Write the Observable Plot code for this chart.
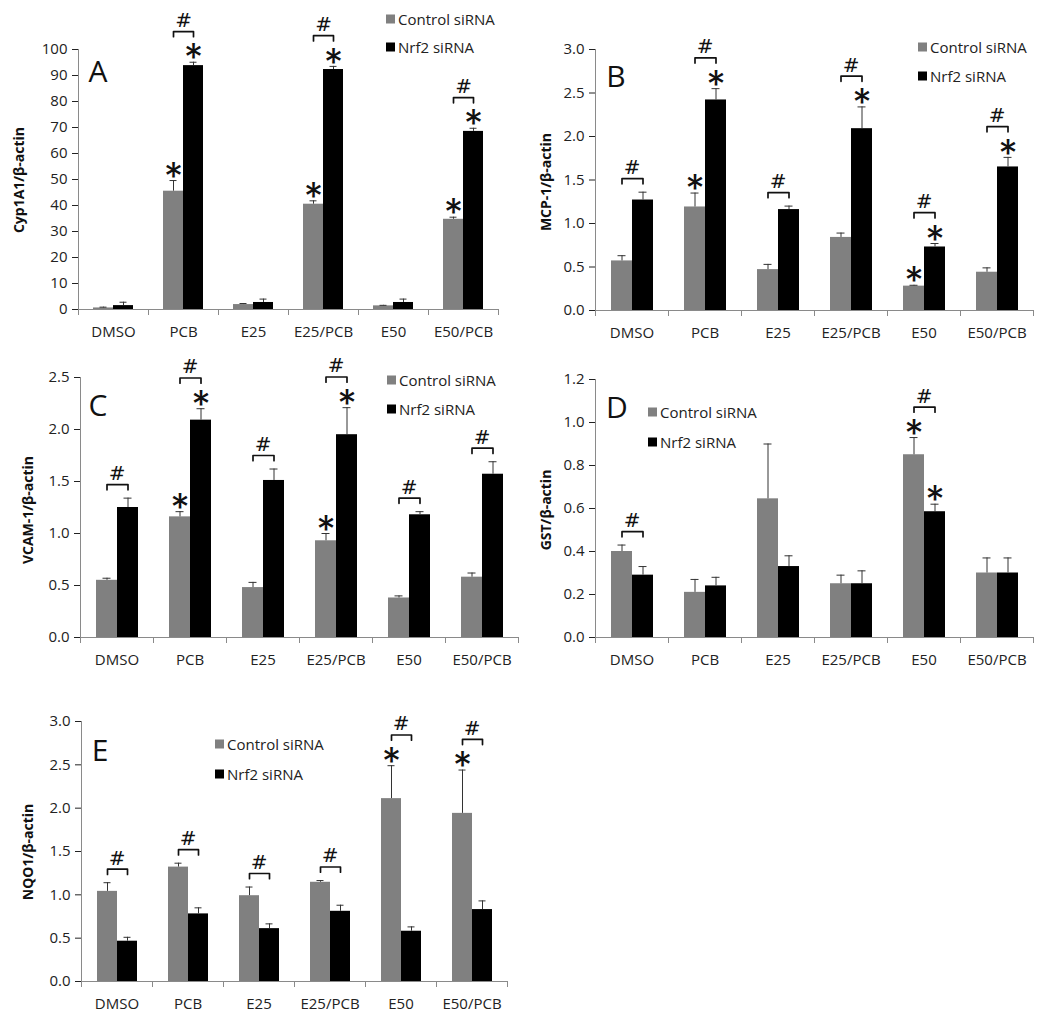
<!DOCTYPE html>
<html>
<head>
<meta charset="utf-8">
<script src="https://cdn.jsdelivr.net/npm/d3@7"></script>
<script src="https://cdn.jsdelivr.net/npm/@observablehq/plot@0.6"></script>
<style>
  html, body { margin: 0; background: #fff; }
  #root { position: relative; width: 1050px; height: 1020px; overflow: hidden; font-family: "Open Sans", sans-serif; color: #222; }
  .panel { position: absolute; }
  .panel svg { position: absolute; left: 0; top: 0; background: transparent !important; overflow: visible; max-width: none !important; }
  .panel g[aria-label="y-axis tick"] { stroke: #8a8a8a; }
  .letter { position: absolute; font-size: 30px; line-height: 1; transform: translate(-50%, -50%); color: #111; }
  .ytitle { position: absolute; font-weight: bold; font-size: 14px; line-height: 1; white-space: nowrap; transform: translate(-50%, -50%) rotate(-90deg); color: #111; }
  .leg { position: absolute; font-size: 15px; line-height: 1; white-space: nowrap; transform: translateY(-50%); display: flex; align-items: center; color: #222; }
  .leg i { display: inline-block; width: 9px; height: 9px; margin-right: 3px; }
</style>
</head>
<body>
<div id="root"></div>
<script>
// ---------- data ----------
const categories = ["DMSO", "PCB", "E25", "E25/PCB", "E50", "E50/PCB"];
const seriesNames = ["Control siRNA", "Nrf2 siRNA"];
const seriesColors = ["#808080", "#000000"];

// A: Cyp1A1
const cypControl    = [0.6, 45.5, 1.9, 40.5, 1.4, 34.7];
const cypControlErr = [0.3, 4.1, 0.4, 1.3, 0.2, 0.8];
const cypNrf2       = [1.5, 93.8, 2.7, 92.3, 2.7, 68.5];
const cypNrf2Err    = [1.3, 1.3, 1.3, 1.2, 1.3, 1.2];
const cypStarsControl = ["PCB", "E25/PCB", "E50/PCB"];
const cypStarsNrf2    = ["PCB", "E25/PCB", "E50/PCB"];
const cypBrackets     = ["PCB", "E25/PCB", "E50/PCB"];
const cypTicks = [0, 10, 20, 30, 40, 50, 60, 70, 80, 90, 100];

// B: MCP-1
const mcpControl    = [0.57, 1.19, 0.47, 0.84, 0.28, 0.44];
const mcpControlErr = [0.06, 0.16, 0.06, 0.05, 0.01, 0.05];
const mcpNrf2       = [1.27, 2.42, 1.16, 2.09, 0.73, 1.65];
const mcpNrf2Err    = [0.09, 0.13, 0.04, 0.25, 0.04, 0.11];
const mcpStarsControl = ["PCB", "E50"];
const mcpStarsNrf2    = ["PCB", "E25/PCB", "E50", "E50/PCB"];
const mcpBrackets     = ["DMSO", "PCB", "E25", "E25/PCB", "E50", "E50/PCB"];
const mcpTicks = [0, 0.5, 1.0, 1.5, 2.0, 2.5, 3.0];

// C: VCAM-1
const vcamControl    = [0.55, 1.16, 0.48, 0.93, 0.38, 0.58];
const vcamControlErr = [0.02, 0.05, 0.05, 0.07, 0.02, 0.04];
const vcamNrf2       = [1.25, 2.09, 1.51, 1.95, 1.18, 1.57];
const vcamNrf2Err    = [0.09, 0.11, 0.11, 0.26, 0.03, 0.12];
const vcamStarsControl = ["PCB", "E25/PCB"];
const vcamStarsNrf2    = ["PCB", "E25/PCB"];
const vcamBrackets     = ["DMSO", "PCB", "E25", "E25/PCB", "E50", "E50/PCB"];
const vcamTicks = [0, 0.5, 1.0, 1.5, 2.0, 2.5];

// D: GST
const gstControl    = [0.40, 0.21, 0.645, 0.25, 0.85, 0.30];
const gstControlErr = [0.03, 0.06, 0.255, 0.04, 0.08, 0.07];
const gstNrf2       = [0.29, 0.24, 0.33, 0.25, 0.585, 0.30];
const gstNrf2Err    = [0.04, 0.04, 0.05, 0.06, 0.035, 0.07];
const gstStarsControl = ["E50"];
const gstStarsNrf2    = ["E50"];
const gstBrackets     = ["DMSO", "E50"];
const gstTicks = [0, 0.2, 0.4, 0.6, 0.8, 1.0, 1.2];

// E: NQO1
const nqoControl    = [1.04, 1.32, 0.99, 1.145, 2.11, 1.94];
const nqoControlErr = [0.10, 0.045, 0.10, 0.02, 0.38, 0.50];
const nqoNrf2       = [0.465, 0.78, 0.61, 0.81, 0.58, 0.83];
const nqoNrf2Err    = [0.045, 0.07, 0.055, 0.07, 0.05, 0.10];
const nqoStarsControl = ["E50", "E50/PCB"];
const nqoStarsNrf2    = [];
const nqoBrackets     = ["DMSO", "PCB", "E25", "E25/PCB", "E50", "E50/PCB"];
const nqoTicks = [0, 0.5, 1.0, 1.5, 2.0, 2.5, 3.0];

// ---------- layout ----------
const panels = [
  {letter: "A", title: "Cyp1A1/β-actin", control: cypControl, controlErr: cypControlErr, nrf2: cypNrf2, nrf2Err: cypNrf2Err,
   starsControl: cypStarsControl, starsNrf2: cypStarsNrf2, brackets: cypBrackets, ticks: cypTicks, fmt: d3.format("d"),
   left: 0, top: 0, width: 520, height: 340, ml: 76, mr: 21, mt: 49, mb: 31,
   letterPos: [98, 71], titlePos: [19, 180], legPos: [386, 19, 47]},
  {letter: "B", title: "MCP-1/β-actin", control: mcpControl, controlErr: mcpControlErr, nrf2: mcpNrf2, nrf2Err: mcpNrf2Err,
   starsControl: mcpStarsControl, starsNrf2: mcpStarsNrf2, brackets: mcpBrackets, ticks: mcpTicks, fmt: d3.format(".1f"),
   left: 520, top: 0, width: 530, height: 340, ml: 73, mr: 15, mt: 49, mb: 30,
   letterPos: [616, 76], titlePos: [546, 182], legPos: [918, 47, 76]},
  {letter: "C", title: "VCAM-1/β-actin", control: vcamControl, controlErr: vcamControlErr, nrf2: vcamNrf2, nrf2Err: vcamNrf2Err,
   starsControl: vcamStarsControl, starsNrf2: vcamStarsNrf2, brackets: vcamBrackets, ticks: vcamTicks, fmt: d3.format(".1f"),
   left: 0, top: 330, width: 520, height: 340, ml: 79, mr: 1, mt: 47, mb: 33,
   letterPos: [98, 405], titlePos: [28, 510], legPos: [387, 380, 409]},
  {letter: "D", title: "GST/β-actin", control: gstControl, controlErr: gstControlErr, nrf2: gstNrf2, nrf2Err: gstNrf2Err,
   starsControl: gstStarsControl, starsNrf2: gstStarsNrf2, brackets: gstBrackets, ticks: gstTicks, fmt: d3.format(".1f"),
   left: 520, top: 330, width: 530, height: 340, ml: 73, mr: 15, mt: 49, mb: 33,
   letterPos: [617, 407], titlePos: [546, 510], legPos: [648, 412, 442]},
  {letter: "E", title: "NQO1/β-actin", control: nqoControl, controlErr: nqoControlErr, nrf2: nqoNrf2, nrf2Err: nqoNrf2Err,
   starsControl: nqoStarsControl, starsNrf2: nqoStarsNrf2, brackets: nqoBrackets, ticks: nqoTicks, fmt: d3.format(".1f"),
   left: 0, top: 680, width: 520, height: 340, ml: 79, mr: 12, mt: 41, mb: 39,
   letterPos: [100, 750], titlePos: [28, 852], legPos: [215, 744, 774]}
];

const axisGray = "#8a8a8a";
const root = document.getElementById("root");

function makePanel(cfg) {
  const ymax = d3.max(cfg.ticks);
  const rows = categories.flatMap((c, i) => [
    {cat: c, series: seriesNames[0], value: cfg.control[i], err: cfg.controlErr[i]},
    {cat: c, series: seriesNames[1], value: cfg.nrf2[i], err: cfg.nrf2Err[i]}
  ]);
  rows.forEach(d => d.top = d.value + d.err);
  const stars = rows.filter(d => (d.series === seriesNames[0] ? cfg.starsControl : cfg.starsNrf2).includes(d.cat));
  const brackets = cfg.brackets.map(c => {
    const base = d3.max(rows.filter(d => d.cat === c), d => d.top);
    const hasStar = stars.some(s => s.cat === c);
    return {cat: c, y: base + ymax * (hasStar ? 0.118 : 0.052)};
  });
  const tickLen = ymax * 0.02;
  const bracketPts = brackets.flatMap(b => [
    {cat: b.cat, series: seriesNames[0], y: b.y - tickLen},
    {cat: b.cat, series: seriesNames[0], y: b.y},
    {cat: b.cat, series: seriesNames[1], y: b.y},
    {cat: b.cat, series: seriesNames[1], y: b.y - tickLen}
  ]);
  const innerH = cfg.height - cfg.mt - cfg.mb;

  const svg = Plot.plot({
    width: cfg.width,
    height: cfg.height,
    marginLeft: cfg.ml,
    marginRight: cfg.mr,
    marginTop: cfg.mt,
    marginBottom: cfg.mb,
    style: {fontFamily: "Open Sans, sans-serif", fontSize: "15px", color: "#222", background: "transparent", overflow: "visible"},
    fx: {domain: categories, paddingInner: 0, paddingOuter: 0, axis: "bottom", tickSize: 0, tickPadding: 17, label: null},
    x: {domain: seriesNames, paddingInner: 0, paddingOuter: 0.72, axis: null},
    y: {domain: [0, ymax], ticks: cfg.ticks, tickFormat: cfg.fmt, tickSize: 6, tickPadding: 5, label: null},
    color: {domain: seriesNames, range: seriesColors},
    marks: [
      Plot.frame({anchor: "left", facetAnchor: "left", stroke: axisGray}),
      Plot.ruleY([0], {stroke: axisGray}),
      Plot.frame({anchor: "left", insetTop: innerH, insetBottom: -5, stroke: axisGray}),
      Plot.frame({anchor: "right", insetTop: innerH, insetBottom: -5, stroke: axisGray}),
      Plot.barY(rows, {fx: "cat", x: "series", y: "value", fill: "series"}),
      Plot.ruleX(rows, {fx: "cat", x: "series", y1: "value", y2: "top", stroke: "#333"}),
      Plot.tickY(rows, {fx: "cat", x: "series", y: "top", stroke: "#333", insetLeft: 6.5, insetRight: 6.5}),
      Plot.line(bracketPts, {fx: "cat", x: "series", y: "y", z: "cat", stroke: "#111", strokeWidth: 1.7}),
      Plot.text(brackets, {fx: "cat", y: "y", text: () => "#", fontSize: 20, dy: -11, fill: "#111", fontFamily: "DejaVu Sans, sans-serif"}),
      Plot.text(stars, {fx: "cat", x: "series", y: "top", text: () => "*", fontSize: 38, fontWeight: 400, dy: -3, fill: "#111", fontFamily: "Inter, sans-serif"})
    ]
  });

  const wrap = document.createElement("div");
  wrap.className = "panel";
  wrap.style.left = cfg.left + "px";
  wrap.style.top = cfg.top + "px";
  wrap.style.width = cfg.width + "px";
  wrap.style.height = cfg.height + "px";
  wrap.appendChild(svg);
  root.appendChild(wrap);

  const letter = document.createElement("div");
  letter.className = "letter";
  letter.textContent = cfg.letter;
  letter.style.left = cfg.letterPos[0] + "px";
  letter.style.top = cfg.letterPos[1] + "px";
  root.appendChild(letter);

  const title = document.createElement("div");
  title.className = "ytitle";
  title.textContent = cfg.title;
  title.style.left = cfg.titlePos[0] + "px";
  title.style.top = cfg.titlePos[1] + "px";
  root.appendChild(title);

  seriesNames.forEach((name, i) => {
    const leg = document.createElement("div");
    leg.className = "leg";
    leg.style.left = cfg.legPos[0] + "px";
    leg.style.top = cfg.legPos[1 + i] + "px";
    const sw = document.createElement("i");
    sw.style.background = seriesColors[i];
    leg.appendChild(sw);
    leg.appendChild(document.createTextNode(name));
    root.appendChild(leg);
  });
}

panels.forEach(makePanel);
</script>
</body>
</html>
